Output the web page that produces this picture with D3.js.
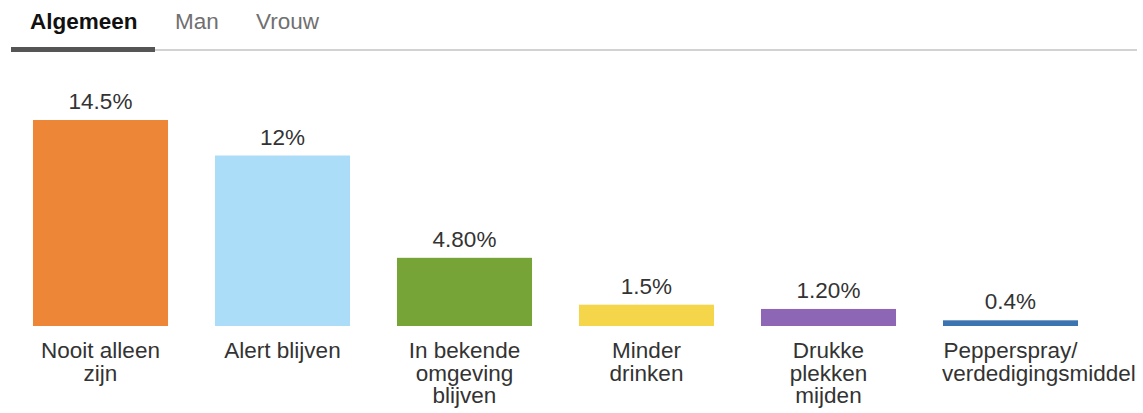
<!DOCTYPE html>
<html>
<head>
<meta charset="utf-8">
<script src="https://cdn.jsdelivr.net/npm/d3@7"></script>
<style>
  html, body { margin: 0; padding: 0; background: #fff; }
  svg { display: block; font-family: "Liberation Sans", Arial, Helvetica, sans-serif; }
</style>
</head>
<body>
<svg id="chart" width="1143" height="413"></svg>
<script>
const tabs = ["Algemeen", "Man", "Vrouw"];
const categories = [
  ["Nooit alleen", "zijn"],
  ["Alert blijven"],
  ["In bekende", "omgeving", "blijven"],
  ["Minder", "drinken"],
  ["Drukke", "plekken", "mijden"],
  ["Pepperspray/", "verdedigingsmiddel"]
];
const values = [14.5, 12, 4.8, 1.5, 1.2, 0.4];
const valueLabels = ["14.5%", "12%", "4.80%", "1.5%", "1.20%", "0.4%"];
const colors = ["#EE8638", "#ABDDF8", "#76A437", "#F5D64A", "#8E66B6", "#3C74B1"];

const svg = d3.select("#chart");
const FS = 22.5;

// Tabs
const tabPos = { "Algemeen": 30, "Man": 175, "Vrouw": 256 };
svg.append("line")
  .attr("x1", 11).attr("x2", 1137).attr("y1", 50).attr("y2", 50)
  .attr("stroke", "#d2d2d2").attr("stroke-width", 2);
svg.append("rect")
  .attr("x", 11).attr("y", 47).attr("width", 144).attr("height", 5)
  .attr("fill", "#555");
svg.selectAll("text.tab").data(tabs).join("text")
  .attr("class", "tab")
  .attr("x", d => tabPos[d])
  .attr("y", 29)
  .attr("font-size", FS)
  .attr("font-weight", (d, i) => i === 0 ? "bold" : "normal")
  .attr("fill", (d, i) => i === 0 ? "#111" : "#707070")
  .text(d => d);

// Scales
const idx = categories.map((d, i) => i);
const x = d3.scaleBand().domain(idx).range([9.5, 1101.5]).paddingInner(0.258).paddingOuter(0.129);
const y = d3.scaleLinear().domain([0, 14.5]).range([326, 120]);

const g = svg.append("g");
g.selectAll("rect.bar").data(idx).join("rect")
  .attr("class", "bar")
  .attr("x", i => x(i))
  .attr("y", i => y(values[i]))
  .attr("width", x.bandwidth())
  .attr("height", i => y(0) - y(values[i]))
  .attr("fill", i => colors[i]);

g.selectAll("text.val").data(idx).join("text")
  .attr("class", "val")
  .attr("x", i => x(i) + x.bandwidth() / 2)
  .attr("y", i => y(values[i]) - 11)
  .attr("text-anchor", "middle")
  .attr("font-size", FS)
  .attr("fill", "#333")
  .text(i => valueLabels[i]);

// Category labels
idx.forEach(i => {
  categories[i].forEach((line, j) => {
    const t = g.append("text")
      .attr("x", x(i) + x.bandwidth() / 2)
      .attr("y", 358 + j * 22.5)
      .attr("text-anchor", "middle")
      .attr("font-size", FS)
      .attr("fill", "#333")
      .text(line);
    const w = t.node().getComputedTextLength();
    if (w > x.bandwidth()) {
      t.attr("text-anchor", "start").attr("x", x(i) - 1);
    }
  });
});
</script>
</body>
</html>
